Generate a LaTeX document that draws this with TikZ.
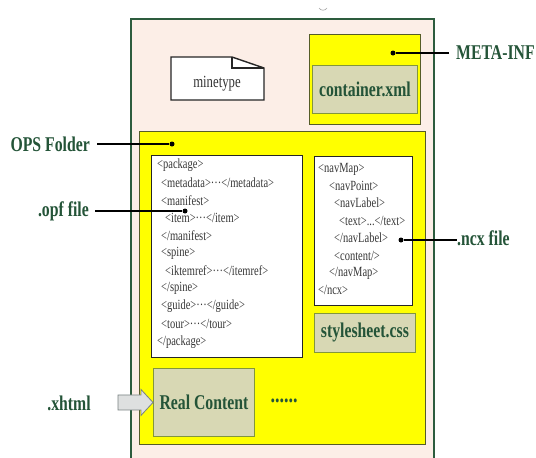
\documentclass[tikz,border=0pt]{standalone}
\usepackage{fontspec}
\setmainfont{Liberation Serif}[FakeStretch=0.75]
\definecolor{outerfill}{RGB}{252,238,231}
\definecolor{outerline}{RGB}{45,92,62}
\definecolor{folderfill}{RGB}{255,255,0}
\definecolor{folderline}{RGB}{85,92,40}
\definecolor{khaki}{RGB}{216,216,180}
\definecolor{khakiline}{RGB}{130,150,60}
\definecolor{labelgreen}{RGB}{36,84,56}
\definecolor{codegray}{RGB}{55,55,55}
\definecolor{arrowfill}{RGB}{222,224,224}
\definecolor{arrowline}{RGB}{120,130,130}
\begin{document}
\begin{tikzpicture}[x=1pt,y=-1pt,
  lbl/.style={font=\fontsize{21}{23}\selectfont\bfseries, text=labelgreen, inner sep=0pt},
  code/.style={font=\fontsize{14}{16}\selectfont, text=codegray, inner sep=0pt, anchor=west},
  dotm/.style={circle, fill=black, inner sep=0pt, minimum size=5pt},
  pointer/.style={line width=1.1pt, black},
  outerbox/.style={draw=outerline, fill=outerfill, line width=2.2pt, anchor=north west},
  folder/.style={draw=folderline, fill=folderfill, line width=1pt, anchor=north west},
  filebox/.style={draw=khakiline, fill=khaki, line width=0.9pt, anchor=north west},
  codebox/.style={draw=black!85, fill=white, line width=1pt, anchor=north west},
  blockarrow/.style={draw=arrowline, fill=arrowfill, line width=0.8pt, line join=miter}]
\useasboundingbox (0,0) rectangle (536,458);
\clip (0,0) rectangle (536,458);
\fill[white] (0,0) rectangle (536,458);

% small mark above the container
\draw[gray!70, line width=0.6pt] (319,8) .. controls (321,11) and (325,11) .. (327,8);

% EPUB container
\node[outerbox, minimum width=303pt, minimum height=470pt] (epub) at (130,18) {};

% mimetype file with folded corner
\draw[line width=1.4pt, black!85, fill=white, line join=miter]
  (171,57) -- (232,57) -- (264,68) -- (264,100) -- (171,100) -- cycle;
\draw[line width=1.2pt, black!85, line join=miter] (232,57) -- (232,68) -- (264,68);
\node[font=\fontsize{17}{19}\selectfont, text=black!80, inner sep=0pt] (mime) at (217,84) {minetype};

% META-INF folder
\node[folder, minimum width=111pt, minimum height=90pt] (meta) at (309,34) {};
\node[filebox, minimum width=105pt, minimum height=48pt] (container) at (312,65) {};
\node[lbl] at (container.center) {container.xml};
\node[dotm] (metadot) at (393,53) {};
\node[lbl, anchor=west] (metalbl) at (456,53) {META-INF};
\draw[pointer] ([xshift=-7pt]metalbl.west) -- (metadot);

% OPS folder
\node[folder, minimum width=286pt, minimum height=313pt] (ops) at (139,131) {};
\node[dotm] (opsdot) at (172,144) {};
\node[lbl, anchor=east] (opslbl) at (90,144) {OPS Folder};
\draw[pointer] ([xshift=7pt]opslbl.east) -- (opsdot);

% package document
\node[codebox, minimum width=151pt, minimum height=202pt] (opf) at (151,155) {};
\foreach \px/\py/\txt [count=\i] in {
  157/165/{<package>},
  161/183/{<metadata>···</metadata>},
  161/201/{<manifest>},
  165/218/{<item>···</item>},
  161/236/{</manifest>},
  161/253/{<spine>},
  165/271/{<iktemref>···</itemref>},
  161/288/{</spine>},
  161/306/{<guide>···</guide>},
  161/324/{<tour>···</tour>},
  157/342/{</package>}}
  \node[code] (opfline\i) at (\px,\py) {\txt};
\node[dotm] (opfdot) at (185,211) {};
\node[lbl, anchor=east] (opflbl) at (89,211) {.opf file};
\draw[pointer] ([xshift=6pt]opflbl.east) -- (opfdot);

% navigation document
\node[codebox, minimum width=98pt, minimum height=149pt] (ncx) at (314,156) {};
\foreach \px/\py/\txt [count=\i] in {
  318/169/{<navMap>},
  329/186/{<navPoint>},
  334/203/{<navLabel>},
  339/221/{<text>...</text>},
  334/238/{</navLabel>},
  334/256/{<content/>},
  329/273/{</navMap>},
  318/290/{</ncx>}}
  \node[code] (ncxline\i) at (\px,\py) {\txt};
\node[dotm] (ncxdot) at (401,240) {};
\node[lbl, anchor=west] (ncxlbl) at (457,238) {.ncx file};
\draw[pointer] (ncxdot) -- (ncxlbl.west |- ncxdot);

% style sheet
\node[filebox, minimum width=101pt, minimum height=39pt] (css) at (314,313) {};
\node[lbl] at (css.center) {stylesheet.css};

% content documents
\node[filebox, minimum width=101pt, minimum height=68pt] (real) at (153,368) {};
\node[lbl] at (real.center) {Real Content};
\node[lbl, font=\fontsize{24}{24}\selectfont\bfseries] (more) at (284,401) {......};

\node[lbl] (xhtml) at (69,403) {.xhtml};
\coordinate (tip) at (real.west);
\draw[blockarrow] (tip) -- ++(-12,-13) -- ++(0,5.5) -- ++(-23,0) -- ++(0,15)
  -- ++(23,0) -- ++(0,5.5) -- cycle;
\end{tikzpicture}
\end{document}
